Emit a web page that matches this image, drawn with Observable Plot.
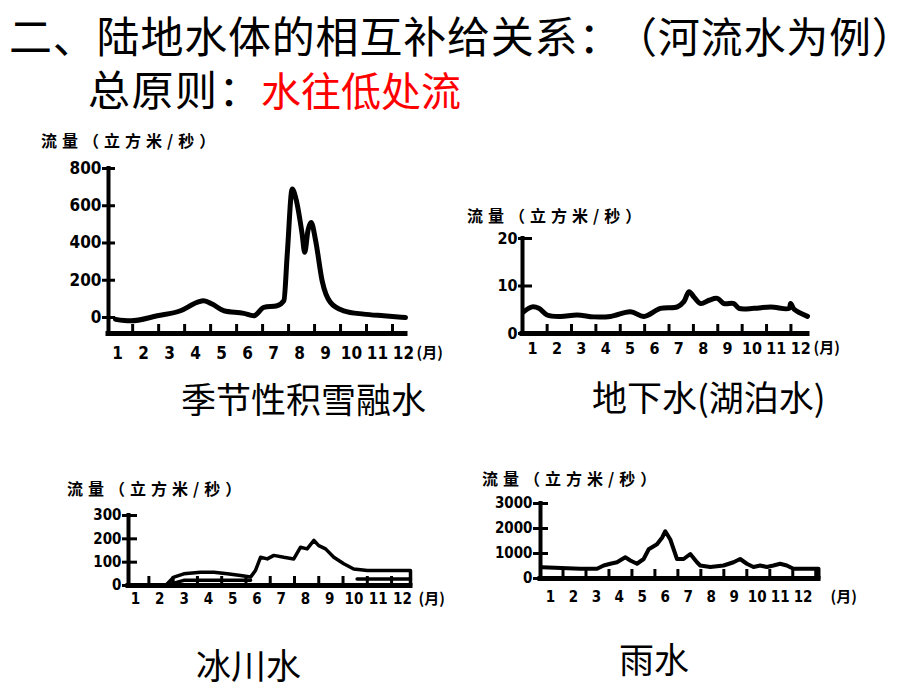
<!DOCTYPE html>
<html><head><meta charset="utf-8">
<script src="https://cdn.jsdelivr.net/npm/d3@7"></script>
<script src="https://cdn.jsdelivr.net/npm/@observablehq/plot@0.6"></script>
<style>
html,body{margin:0;padding:0;background:#fff;}
#page{position:relative;width:920px;height:690px;overflow:hidden;background:#fff;font-family:"Noto Sans CJK SC",sans-serif;color:#000;text-spacing-trim:space-all;}
.t{position:absolute;white-space:nowrap;line-height:1;text-spacing-trim:space-all;}
.ax{position:absolute;white-space:nowrap;line-height:1;font-size:16px;font-weight:700;letter-spacing:5px;text-spacing-trim:space-all;}
.chart{position:absolute;}
.chart svg{overflow:visible;background:transparent;text-spacing-trim:space-all;}
</style></head><body>
<div id="page">
  <div class="t" style="left:9px;top:13px;font-size:43px;letter-spacing:0.8px;">二、陆地水体的相互补给关系：</div>
  <div class="t" style="left:615px;top:14px;font-size:42px;letter-spacing:0.8px;">（河流水为例）</div>
  <div class="t" style="left:88px;top:67px;font-size:42px;letter-spacing:1.5px;">总原则：</div>
  <div class="t" style="left:261px;top:69px;font-size:40px;color:#ff0000;">水往低处流</div>
  <div class="t" style="left:181px;top:380px;font-size:35px;">季节性积雪融水</div>
  <div class="t" style="left:592px;top:378px;font-size:35px;">地下水(湖泊水)</div>
  <div class="t" style="left:196px;top:646px;font-size:35px;">冰川水</div>
  <div class="t" style="left:619px;top:640px;font-size:35px;">雨水</div>
  <div class="ax" style="left:41px;top:132px;">流量（立方米/秒）</div>
  <div class="ax" style="left:467px;top:207px;">流量（立方米/秒）</div>
  <div class="ax" style="left:67px;top:480px;">流量（立方米/秒）</div>
  <div class="ax" style="left:482px;top:470px;">流量（立方米/秒）</div>
  <div class="chart" id="c1"></div>
  <div class="chart" id="c2"></div>
  <div class="chart" id="c3"></div>
  <div class="chart" id="c4"></div>
</div>
<script>
// ---- data ----
const months = [1,2,3,4,5,6,7,8,9,10,11,12];
const monthUnit = "(月)";

// 季节性积雪融水
const snowTicks = [0,200,400,600,800];
const snowMonth = [0.92,1.5,2.53,3.42,4.06,4.32,4.64,5.09,5.86,6.24,6.63,7.14,7.4,7.53,7.72,7.86,8.1,8.2,8.33,8.45,8.62,8.87,9.19,9.7,10.47,11.24,12.08];
const snowFlow  = [-10,-18,9,36,81,90,72,36,22,9,54,63,90,342,690,640,450,350,470,510,414,198,81,36,18,9,0];

// 地下水(湖泊水)
const lakeTicks = [0,10,20];
const lakeMonth = [0.64,0.99,1.26,1.6,2.15,2.83,3.52,4.2,5.02,5.57,6.25,6.94,7.21,7.42,7.62,7.9,8.24,8.58,8.85,9.26,9.47,10.08,10.77,11.52,11.59,11.73,12.28];
const lakeFlow  = [4.6,5.6,5.3,3.9,3.6,3.9,3.5,3.6,4.6,3.6,5.3,5.6,6.7,8.8,7.7,6.3,7.0,7.4,6.3,6.3,5.3,5.3,5.6,5.3,6.3,5.1,3.6];

// 冰川水
const glacierTicks = [0,100,200,300];
const glacierMonth = [2.24,2.58,2.99,3.68,4.23,4.78,5.33,5.74,5.94,6.15,6.43,6.7,7.11,7.52,7.8,8.07,8.35,8.55,8.83,9.17,9.58,9.99,10.55,11.37,12.33,12.33];
const glacierFlow  = [0,36,50,57,57,50,43,36,64,121,114,129,121,114,164,157,193,171,157,121,93,71,64,64,64,0];
const glacierLowMonth = [2.4,2.99,5.74,10.13,12.33];
const glacierLowFlow  = [5,22,22,28,28];
const glacierLowPart  = ["a","a","a","b","b"];

// 雨水
const rainTicks = [0,1000,2000,3000];
const rainMonth = [0.64,2.3,3.03,3.32,3.61,3.9,4.26,4.48,4.77,5.06,5.28,5.64,5.86,6.0,6.22,6.51,6.8,7.09,7.38,7.52,7.96,8.54,8.97,9.26,9.55,9.84,10.13,10.42,10.71,11.0,11.29,11.58,12.67,12.67];
const rainFlow  = [450,390,390,520,590,650,850,720,590,780,1170,1370,1630,1890,1560,780,780,980,650,520,460,520,650,780,590,460,520,460,520,590,520,390,390,0];

const zipRows = (ms, vs, zs) => ms.map((m, i) => ({m, v: vs[i], z: zs ? zs[i] : "s"}));

const FONT = "'DejaVu Sans Condensed','DejaVu Sans','Noto Sans CJK SC',sans-serif";

function chart(cfg) {
  const mL = 70, mR = 80, mT = 14, mB = 36;
  const W = cfg.x1px - cfg.x0px + mL + mR;
  const H = cfg.ybot - cfg.ytop + mT + mB;
  const xd = cfg.xd, yd = cfg.yd;
  const kx = (cfg.x1px - cfg.x0px) / (xd[1] - xd[0]);
  const ky = (cfg.ybot - cfg.ytop) / (yd[1] - yd[0]);
  const topTick = cfg.yTicks[cfg.yTicks.length - 1];
  const tickPos = months.map(i => i + cfg.tickOff).filter(p => p <= xd[1] + 0.02);
  const marks = [
    Plot.ruleX([xd[0]], {y1: yd[0], y2: topTick, stroke: "#000", strokeWidth: cfg.axW, strokeLinecap: "square"}),
    Plot.ruleY([yd[0]], {x1: xd[0], x2: xd[1], stroke: "#000", strokeWidth: cfg.axW + 1, strokeLinecap: "square"}),
    Plot.ruleY(cfg.yTicks, {y: d => d, x1: xd[0] - cfg.tl / kx, x2: xd[0] + cfg.tr / kx, stroke: "#000", strokeWidth: 3}),
    Plot.ruleX(tickPos, {x: d => d, y1: yd[0], y2: yd[0] + 9 / ky, stroke: "#000", strokeWidth: 3}),
    Plot.text(cfg.yTicks, {x: xd[0], y: d => d, text: d => String(d), textAnchor: "end", dx: -cfg.tl - 1, fontSize: cfg.fs, fontWeight: "bold", fontFamily: FONT, fill: "#000"}),
    Plot.text(months, {x: d => d, y: yd[0], dy: cfg.labDy, text: d => String(d), fontSize: cfg.fs, fontWeight: "bold", fontFamily: FONT, fill: "#000"}),
    Plot.text([monthUnit], {x: xd[1], y: yd[0], dy: cfg.labDy, dx: cfg.unitDx, text: d => d, textAnchor: "start", fontSize: 15, fontWeight: "bold", fontFamily: "'Noto Sans CJK SC',sans-serif", fill: "#000", letterSpacing: 5}),
    Plot.line(cfg.rows, {x: "m", y: "v", z: "z", curve: cfg.curve, stroke: "#000", strokeWidth: cfg.sw, strokeLinejoin: "round", strokeLinecap: "round"})
  ];
  if (cfg.extra) marks.push(Plot.line(cfg.extra, {x: "m", y: "v", z: "z", curve: "linear", stroke: "#000", strokeWidth: cfg.sw, strokeLinejoin: "round"}));
  const svg = Plot.plot({
    width: W, height: H,
    marginLeft: mL, marginRight: mR, marginTop: mT, marginBottom: mB,
    x: {domain: xd, axis: null},
    y: {domain: yd, axis: null},
    style: {background: "transparent", overflow: "visible", fontFamily: FONT},
    marks
  });
  const el = document.getElementById(cfg.id);
  el.style.left = (cfg.x0px - mL) + "px";
  el.style.top = (cfg.ytop - mT) + "px";
  el.appendChild(svg);
}

chart({id: "c1", x0px: 108, x1px: 405, ytop: 168, ybot: 333, xd: [0.65, 12.08], yd: [-86, 800],
  yTicks: snowTicks, rows: zipRows(snowMonth, snowFlow), curve: "monotone-x", sw: 5, axW: 4,
  labDy: 20, tickOff: 0.58, tl: 6, tr: 7, fs: 17, unitDx: 11});
chart({id: "c2", x0px: 522, x1px: 807, ytop: 238, ybot: 333, xd: [0.59, 12.28], yd: [0, 20],
  yTicks: lakeTicks, rows: zipRows(lakeMonth, lakeFlow), curve: "catmull-rom", sw: 5, axW: 4,
  labDy: 15, tickOff: 0.6, tl: 4, tr: 10, fs: 16, unitDx: 6});
chart({id: "c3", x0px: 128, x1px: 410, ytop: 515, ybot: 585, xd: [0.71, 12.33], yd: [0, 300],
  yTicks: glacierTicks, rows: zipRows(glacierMonth, glacierFlow), extra: zipRows(glacierLowMonth, glacierLowFlow, glacierLowPart),
  curve: "linear", sw: 3.5, axW: 4, labDy: 14, tickOff: 0.55, tl: 6, tr: 9, fs: 15, unitDx: 8});
chart({id: "c4", x0px: 540, x1px: 818, ytop: 503, ybot: 578, xd: [0.57, 12.67], yd: [0, 3000],
  yTicks: rainTicks, rows: zipRows(rainMonth, rainFlow), curve: "linear", sw: 4, axW: 4,
  labDy: 19, tickOff: 0.55, tl: 7, tr: 8, fs: 15, unitDx: 12});
</script>
</body></html>
